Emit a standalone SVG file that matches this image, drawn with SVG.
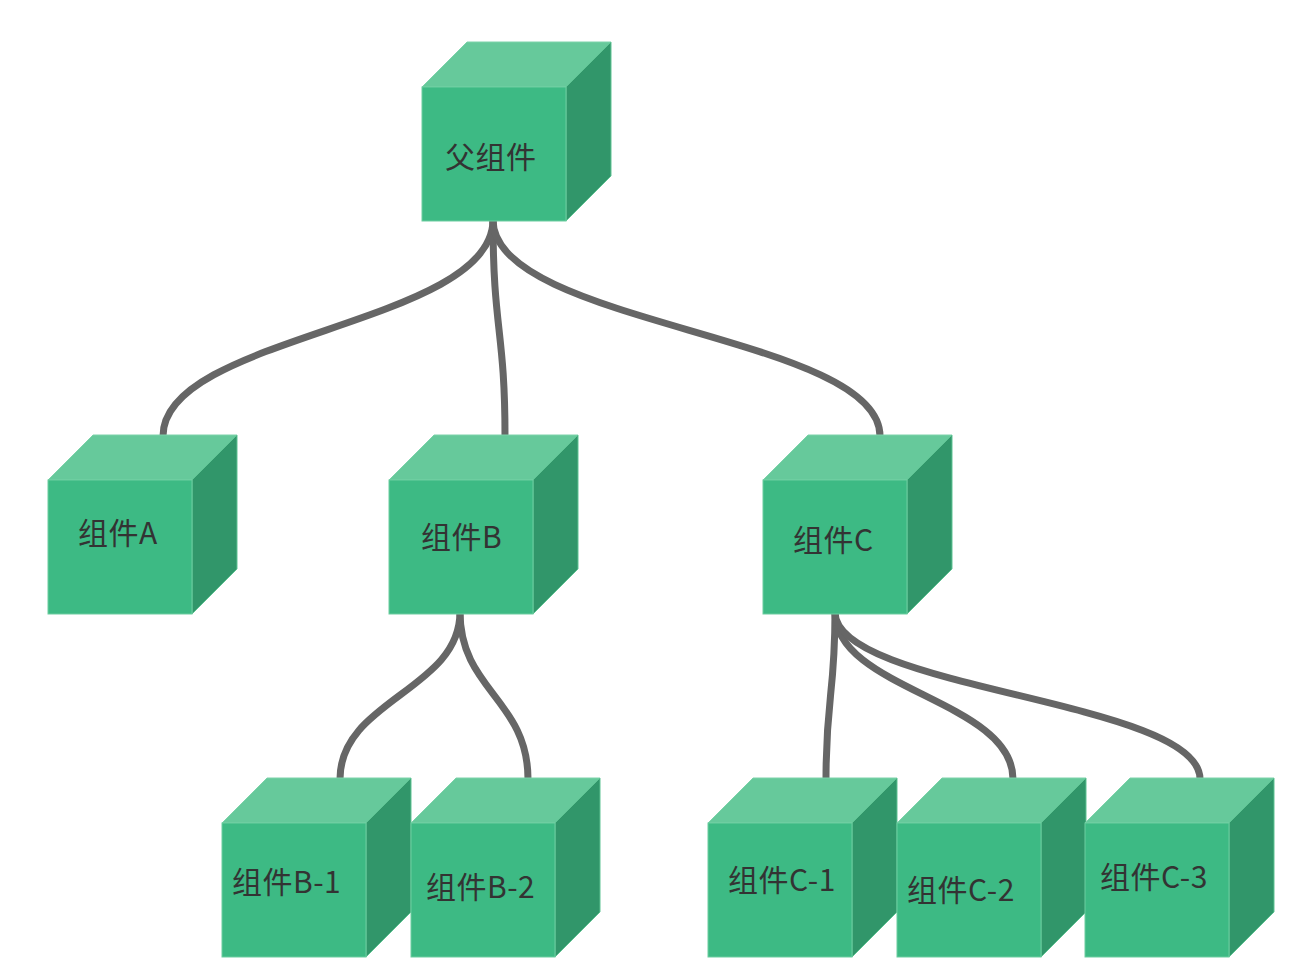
<svg xmlns="http://www.w3.org/2000/svg" xmlns:xlink="http://www.w3.org/1999/xlink" width="1298" height="976" viewBox="0 0 1298 976">
<style>
.top{fill:#66c99b;stroke:#7dd3aa;stroke-width:1}
.front{fill:#3dba84;stroke:#6ccda0;stroke-width:1}
.side{fill:#31966a;stroke:#5fc393;stroke-width:1}
.lbl{font-family:"Noto Sans CJK SC","Noto Sans",sans-serif;font-size:30px;fill:#333333;letter-spacing:0.5px}
.conn path{fill:none;stroke:#666666;stroke-width:7;stroke-linecap:butt}
</style>
<defs>
<g id="cube">
<polygon class="top" points="0,0 45,-45 189,-45 144,0"/>
<polygon class="side" points="144,0 189,-45 189,89 144,134"/>
<rect class="front" x="0" y="0" width="144" height="134"/>
</g>
</defs>
<rect width="1298" height="976" fill="#ffffff"/>
<g id="connectors" class="conn">
<path d="M493,220 C493,325 163,335 163,436"/>
<path d="M493,220 C493,330 505,330 505,436"/>
<path d="M493,220 C493,325 880,335 880,436"/>
<path d="M460,612 C460,690 340,700 340,779"/>
<path d="M460,612 C460,690 528,700 528,779"/>
<path d="M835,612 C835,696 826,696 826,779"/>
<path d="M835,612 C835,690 1013,700 1013,779"/>
<path d="M835,612 C835,690 1200,700 1200,779"/>
</g>
<g id="node-parent"><use xlink:href="#cube" href="#cube" x="422" y="87"/><text class="lbl" x="445" y="168">父组件</text></g>
<g id="node-a"><use xlink:href="#cube" href="#cube" x="48" y="480"/><text class="lbl" x="78" y="544">组件A</text></g>
<g id="node-b"><use xlink:href="#cube" href="#cube" x="389" y="480"/><text class="lbl" x="421" y="548">组件B</text></g>
<g id="node-c"><use xlink:href="#cube" href="#cube" x="763" y="480"/><text class="lbl" x="793" y="551">组件C</text></g>
<g id="node-b1"><use xlink:href="#cube" href="#cube" x="222" y="823"/><text class="lbl" x="232" y="893">组件B-1</text></g>
<g id="node-b2"><use xlink:href="#cube" href="#cube" x="411" y="823"/><text class="lbl" x="426" y="898">组件B-2</text></g>
<g id="node-c1"><use xlink:href="#cube" href="#cube" x="708" y="823"/><text class="lbl" x="728" y="891">组件C-1</text></g>
<g id="node-c2"><use xlink:href="#cube" href="#cube" x="897" y="823"/><text class="lbl" x="907" y="901">组件C-2</text></g>
<g id="node-c3"><use xlink:href="#cube" href="#cube" x="1085" y="823"/><text class="lbl" x="1100" y="888">组件C-3</text></g>
</svg>
